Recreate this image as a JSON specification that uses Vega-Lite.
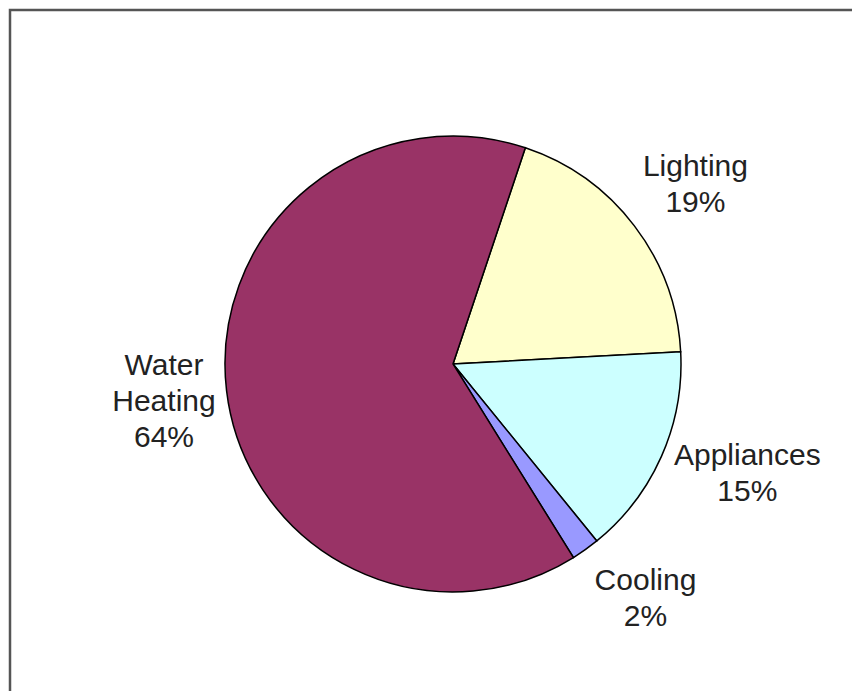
{
  "$schema": "https://vega.github.io/schema/vega-lite/v6.json",
  "width": 846,
  "height": 685,
  "autosize": {"type": "none"},
  "padding": {"left": 10, "top": 10, "right": -4, "bottom": -4},
  "background": "white",
  "config": {"view": {"stroke": "#555555", "strokeWidth": 2.5}},
  "data": {
    "values": [
      {"category": "Lighting", "value": 19},
      {"category": "Appliances", "value": 15},
      {"category": "Cooling", "value": 2},
      {"category": "Water Heating", "value": 64}
    ]
  },
  "transform": [
    {"window": [{"op": "row_number", "as": "idx"}]},
    {"calculate": "replace(datum.category, ' ', '\\n') + '\\n' + datum.value + '%'", "as": "label"}
  ],
  "encoding": {
    "theta": {"field": "value", "type": "quantitative", "stack": true, "scale": {"range": [0.323, 6.606]}},
    "order": {"field": "idx", "type": "quantitative"},
    "x": {"value": 443},
    "y": {"value": 354}
  },
  "layer": [
    {
      "mark": {"type": "arc", "outerRadius": 228, "stroke": "#000000", "strokeWidth": 1.5},
      "encoding": {
        "color": {
          "field": "category",
          "type": "nominal",
          "scale": {
            "domain": ["Lighting", "Appliances", "Cooling", "Water Heating"],
            "range": ["#FFFFCC", "#CCFFFF", "#9999FF", "#993366"]
          },
          "legend": null
        }
      }
    },
    {
      "mark": {"type": "text", "font": "Liberation Sans", "fontSize": 30, "fill": "#222222", "lineHeight": 36, "align": "center", "baseline": "alphabetic", "lineBreak": "\n", "dx": -1, "dy": -3},
      "encoding": {
        "radius": {"value": 306},
        "text": {"condition": {"test": "datum.category === 'Lighting'", "field": "label", "type": "nominal"}, "value": ""}
      }
    },
    {
      "mark": {"type": "text", "font": "Liberation Sans", "fontSize": 30, "fill": "#222222", "lineHeight": 36, "align": "center", "baseline": "alphabetic", "lineBreak": "\n", "dx": 10, "dy": -25},
      "encoding": {
        "radius": {"value": 311},
        "text": {"condition": {"test": "datum.category === 'Appliances'", "field": "label", "type": "nominal"}, "value": ""}
      }
    },
    {
      "mark": {"type": "text", "font": "Liberation Sans", "fontSize": 30, "fill": "#222222", "lineHeight": 36, "align": "center", "baseline": "alphabetic", "lineBreak": "\n", "dx": 20, "dy": -16},
      "encoding": {
        "radius": {"value": 297},
        "text": {"condition": {"test": "datum.category === 'Cooling'", "field": "label", "type": "nominal"}, "value": ""}
      }
    },
    {
      "mark": {"type": "text", "font": "Liberation Sans", "fontSize": 30, "fill": "#222222", "lineHeight": 36, "align": "center", "baseline": "alphabetic", "lineBreak": "\n", "dx": -2, "dy": -23},
      "encoding": {
        "radius": {"value": 289},
        "text": {"condition": {"test": "datum.category === 'Water Heating'", "field": "label", "type": "nominal"}, "value": ""}
      }
    }
  ]
}
